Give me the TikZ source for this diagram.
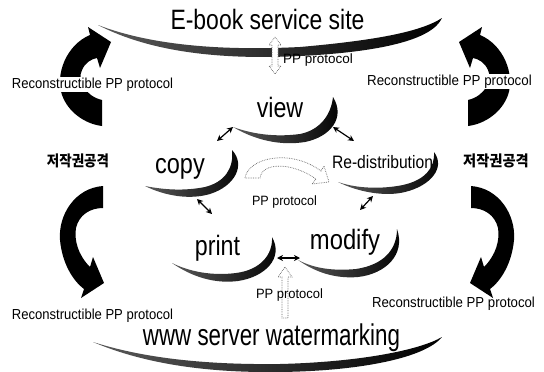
\documentclass[tikz,border=0pt]{standalone}
\usepackage{fontspec}
\usepackage{graphicx}
\setmainfont{Liberation Sans}
\newfontfamily\krfont{Noto Sans CJK KR}
\usetikzlibrary{arrows.meta}
\newcommand{\tx}[3]{{\fontsize{#1}{#1}\selectfont\scalebox{#2}[1]{#3}}}
\newcommand{\bigarrLT}{(102,126) -- (102,100) .. controls (85,96) and (77,80) .. (82,70) .. controls (85,63) and (91,59) .. (97,58) -- (100,68) -- (111,42) -- (88,27) -- (90,35) .. controls (66,45) and (55,75) .. (62,95) .. controls (68,112) and (85,124) .. (102,126) -- cycle}
\newcommand{\bigarrLB}{(103,186) .. controls (75,188) and (58,215) .. (60,240) .. controls (62,262) and (72,280) .. (84,289) -- (81,298) -- (104,283) -- (93,257) -- (90,267) .. controls (78,255) and (74,240) .. (76,228) .. controls (79,215) and (90,208) .. (103,208) -- cycle}
\begin{document}
\begin{tikzpicture}[x=1pt,y=-1pt,
  swoosh/.style={left color=black!65,right color=black,draw=none},
  bigarrow/.style={fill=black,draw=none},
  hollow/.style={draw=black!60,densely dotted,line width=0.7pt,fill=white},
  link/.style={{Stealth[length=6pt,width=6pt]}-{Stealth[length=6pt,width=6pt]},line width=1.2pt},
  lbl/.style={inner sep=0pt,anchor=base},
  rlbl/.style={inner sep=0.8pt,anchor=base,fill=white}]
\useasboundingbox[fill=white] (0,0) rectangle (544,372);

% big swooshes
\shade[swoosh] (98,25) .. controls (150,52) and (220,60) .. (300,56) .. controls (380,52) and (432,40) .. (442,18) .. controls (422,31) and (380,40) .. (300,47) .. controls (220,51) and (150,45) .. (98,25) -- cycle;
\shade[swoosh] (93,342) .. controls (140,362) and (200,373) .. (280,372) .. controls (360,371) and (425,358) .. (442,337) .. controls (420,350) and (360,362) .. (280,364) .. controls (200,365) and (140,357) .. (93,342) -- cycle;

% small crescents
\shade[swoosh] (233,127) .. controls (255,140) and (280,146) .. (305,142) .. controls (330,137) and (346,118) .. (333,97) .. controls (331,115) and (320,130) .. (300,134) .. controls (278,137) and (255,135) .. (233,127) -- cycle;
\shade[swoosh] (145,186) .. controls (165,196) and (190,200) .. (210,194) .. controls (235,186) and (246,165) .. (232,150) .. controls (234,168) and (225,182) .. (205,187) .. controls (185,191) and (165,190) .. (145,186) -- cycle;
\shade[swoosh] (338,182) .. controls (358,192) and (385,197) .. (405,192) .. controls (430,186) and (446,168) .. (434,152) .. controls (435,168) and (425,180) .. (403,185) .. controls (383,189) and (358,189) .. (338,182) -- cycle;
\shade[swoosh] (172,263) .. controls (192,277) and (215,284) .. (238,281) .. controls (265,277) and (284,258) .. (272,237) .. controls (273,255) and (260,270) .. (236,273) .. controls (213,276) and (190,272) .. (172,263) -- cycle;
\shade[swoosh] (298,260) .. controls (315,272) and (335,279) .. (358,277) .. controls (385,274) and (406,255) .. (397,229) .. controls (397,250) and (383,265) .. (356,269) .. controls (335,271) and (315,269) .. (298,260) -- cycle;

% big black curved arrows
\fill[bigarrow] \bigarrLT;
\fill[bigarrow] \bigarrLB;
\begin{scope}[xshift=570pt,xscale=-1]
  \fill[bigarrow] \bigarrLT;
\end{scope}
\begin{scope}[xshift=574pt,xscale=-1]
  \fill[bigarrow] \bigarrLB;
\end{scope}

% hollow dotted arrows
\draw[hollow] (275,37) -- (281,45) -- (278,45) -- (278,66) -- (281,66) -- (275,74) -- (269,66) -- (272,66) -- (272,45) -- (269,45) -- cycle;
\draw[hollow] (285,267) -- (292,277) -- (288,277) -- (288,318) -- (282,318) -- (282,277) -- (278,277) -- cycle;
\draw[hollow] (245,178) .. controls (248,158) and (290,148) .. (321,171) -- (324,166) -- (329,182) -- (312,184) -- (316,179) .. controls (292,162) and (262,162) .. (260,178) -- cycle;

% small double arrows
\coordinate (vl1) at (233,127); \coordinate (vl2) at (217,141);
\coordinate (vr1) at (333,127); \coordinate (vr2) at (354,141);
\coordinate (cp1) at (197,199); \coordinate (cp2) at (212,214);
\coordinate (rm1) at (373,196); \coordinate (rm2) at (360,210);
\coordinate (pm1) at (277,258); \coordinate (pm2) at (300,258);
\draw[link] (vl1) -- (vl2);
\draw[link] (vr1) -- (vr2);
\draw[link] (cp1) -- (cp2);
\draw[link] (rm1) -- (rm2);
\draw[link] (pm1) -- (pm2);

% texts
\node[lbl] (title) at (267.5,30) {\tx{28}{0.82}{E-book service site}};
\node[lbl] (bottom) at (271.5,345) {\tx{30}{0.745}{www server watermarking}};
\node[lbl] (pp1) at (318,63) {\tx{13.5}{1.0}{PP protocol}};
\node[lbl] (pp2) at (284.5,205) {\tx{13.5}{0.93}{PP protocol}};
\node[lbl] (pp3) at (289.5,298) {\tx{13.5}{0.96}{PP protocol}};
\node[lbl] (view) at (280,117) {\tx{28}{0.83}{view}};
\node[lbl] (copy) at (180,173) {\tx{28}{0.84}{copy}};
\node[lbl] (redis) at (382.5,168) {\tx{18}{0.87}{Re-distribution}};
\node[lbl] (print) at (217.5,255) {\tx{28}{0.83}{print}};
\node[lbl] (modify) at (345,249) {\tx{28}{0.85}{modify}};
\node[rlbl] (rlt) at (92.5,88) {\tx{14.5}{0.9}{Reconstructible PP protocol}};
\node[rlbl] (rrt) at (449.5,85) {\tx{14.5}{0.92}{Reconstructible PP protocol}};
\node[lbl] (rlb) at (92.5,319) {\tx{14.5}{0.9}{Reconstructible PP protocol}};
\node[lbl] (rrb) at (453.5,307) {\tx{14.5}{0.91}{Reconstructible PP protocol}};
\node[lbl] (krl) at (78,166) {\krfont\bfseries\tx{15}{0.9}{저작권공격}};
\node[lbl] (krr) at (496,166) {\krfont\bfseries\tx{15}{0.95}{저작권공격}};
\end{tikzpicture}
\end{document}
